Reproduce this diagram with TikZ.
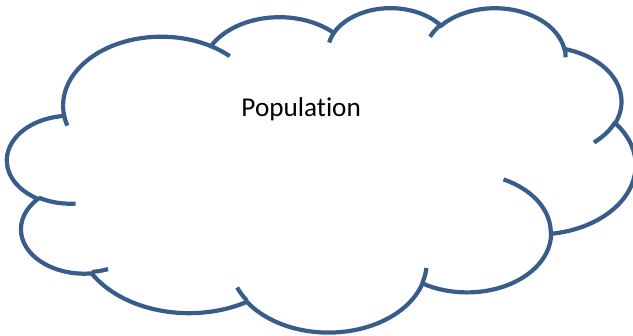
\documentclass[tikz,border=0pt]{standalone}
\usepackage{fontspec}
\setmainfont{Carlito}[Ligatures=NoCommon]
\definecolor{cloudblue}{HTML}{385D8A}
% one OOXML-style arcTo: wR hR (path units/1000), start angle, sweep (visual angles, degrees)
\newcommand\cldarc[4]{%
  \pgfextra{%
    \pgfmathsetmacro\cldA{#3}%
    \pgfmathsetmacro\cldB{#3+#4}%
    \pgfmathsetmacro\cldtA{atan2(#1*sin(\cldA),#2*cos(\cldA))}%
    \pgfmathsetmacro\cldtB{atan2(#1*sin(\cldB),#2*cos(\cldB))}%
    \pgfmathsetmacro\cldd{mod(\cldtB-\cldtA+720,360)}%
    \global\let\cldtA\cldtA
    \global\let\cldd\cldd
  }
  arc[start angle=\cldtA, delta angle=\cldd, x radius=#1pt, y radius=#2pt]
}
\tikzset{cloudline/.style={draw=cloudblue, line width=2.1pt, line join=miter}}
\begin{document}
\begin{tikzpicture}
\useasboundingbox (0,0) rectangle (316.5pt,-168pt);
\begin{scope}[shift={(3.65pt,-3.55pt)}, xscale=7.2695, yscale=-3.7535]
\draw[cloudline] (3.9pt,14.37pt)
  \cldarc{6.753}{9.19}{-190.4874833}{123.7805333}
  \cldarc{5.333}{7.267}{-144.1023833}{89.9452333}
  \cldarc{4.365}{5.945}{-145.8079167}{99.7230167}
  \cldarc{4.857}{6.595}{-130.9860667}{117.2417333}
  \cldarc{5.333}{7.273}{-78.7088833}{109.0269167}
  \cldarc{6.775}{9.22}{-46.26725}{130.269}
  \cldarc{5.785}{7.867}{0.6250167}{114.0333333}
  \cldarc{6.752}{9.215}{22.4516}{115.17255}
  \cldarc{7.72}{10.543}{66.2426333}{75.7110167}
  \cldarc{4.36}{5.918}{-274.9420833}{146.7355667}
  \cldarc{4.345}{5.945}{-246.8285}{152.51885}
  -- cycle;
\draw[cloudline] (4.693pt,26.177pt) \cldarc{4.345}{5.945}{86.742}{26.4295};
\draw[cloudline] (6.928pt,34.899pt) \cldarc{4.36}{5.918}{73.61047}{11.44747};
\draw[cloudline] (16.478pt,39.09pt) \cldarc{6.752}{9.215}{137.62415}{14.0811};
\draw[cloudline] (28.827pt,34.751pt) \cldarc{6.752}{9.215}{6.45327}{15.99835};
\draw[cloudline] (34.129pt,22.954pt) \cldarc{5.785}{7.867}{-70.29235}{70.91737};
\draw[cloudline] (41.798pt,15.354pt) \cldarc{5.333}{7.273}{30.31803}{27.7515};
\draw[cloudline] (38.324pt,5.426pt) \cldarc{4.857}{6.595}{-13.74433}{14.8589};
\draw[cloudline] (29.078pt,3.952pt) \cldarc{4.857}{6.595}{-149.18145}{18.19537};
\draw[cloudline] (22.141pt,4.72pt) \cldarc{4.365}{5.945}{-163.49427}{17.68635};
\draw[cloudline] (14pt,5.192pt) \cldarc{6.753}{9.19}{-66.70695}{12.31935};
\draw[cloudline] (4.127pt,15.789pt) \cldarc{6.753}{9.19}{157.65435}{11.85817};
\end{scope}
\node[font=\fontsize{13.6pt}{16pt}\selectfont, anchor=base, inner sep=0pt] (label) at (150.6pt,-58.25pt) {Population};
\end{tikzpicture}
\end{document}
